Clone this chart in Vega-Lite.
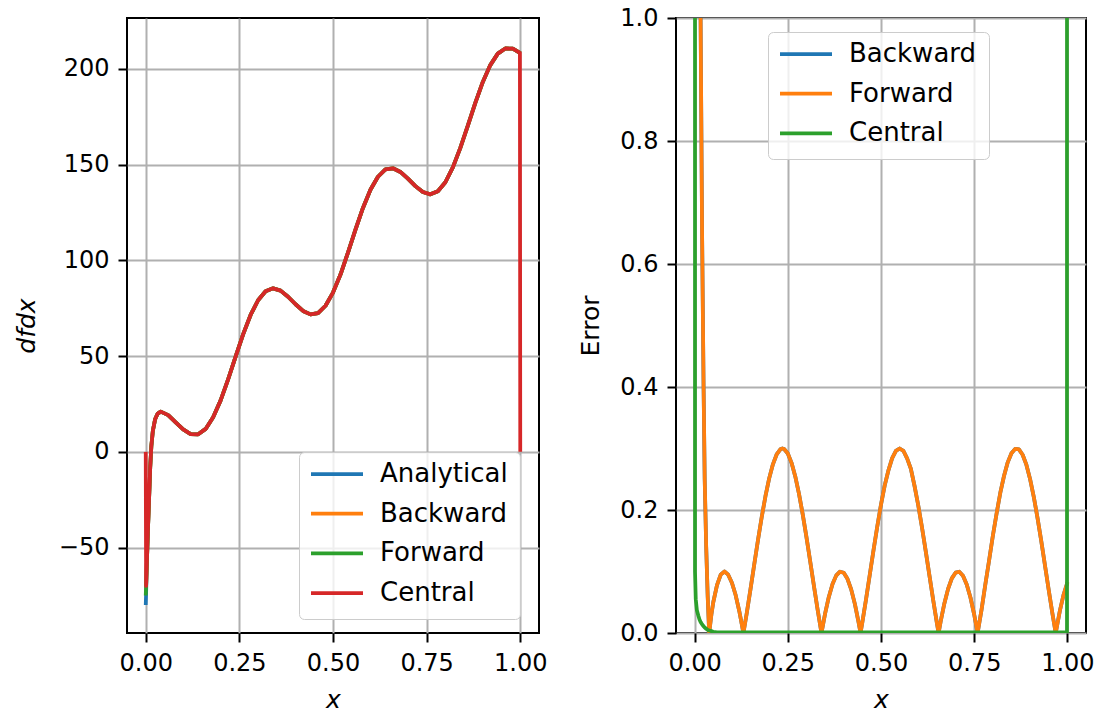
{
  "$schema": "https://vega.github.io/schema/vega-lite/v6.json",
  "autosize": {"type": "pad"},
  "padding": {"left": 13, "top": 5, "right": 0, "bottom": 2},
  "bounds": "flush",
  "spacing": 137,
  "background": "white",
  "datasets": {
    "deriv": [
      {"x": 0, "Analytical": -80, "Backward": -70, "Forward": -75, "Central": 0},
      {"x": 0.001, "Analytical": -74, "Backward": -70, "Forward": -70, "Central": -70},
      {"x": 0.003, "Analytical": -58, "Backward": -58, "Forward": -58, "Central": -58},
      {"x": 0.006, "Analytical": -40, "Backward": -40, "Forward": -40, "Central": -40},
      {"x": 0.009, "Analytical": -24, "Backward": -24, "Forward": -24, "Central": -24},
      {"x": 0.012, "Analytical": -8, "Backward": -8, "Forward": -8, "Central": -8},
      {"x": 0.015, "Analytical": 3, "Backward": 3, "Forward": 3, "Central": 3},
      {"x": 0.019, "Analytical": 11, "Backward": 11, "Forward": 11, "Central": 11},
      {"x": 0.025, "Analytical": 17, "Backward": 17, "Forward": 17, "Central": 17},
      {"x": 0.032, "Analytical": 20, "Backward": 20, "Forward": 20, "Central": 20},
      {"x": 0.04, "Analytical": 21, "Backward": 21, "Forward": 21, "Central": 21},
      {"x": 0.06, "Analytical": 19.2, "Backward": 19.2, "Forward": 19.2, "Central": 19.2},
      {"x": 0.08, "Analytical": 15.4, "Backward": 15.4, "Forward": 15.4, "Central": 15.4},
      {"x": 0.10, "Analytical": 11.7, "Backward": 11.7, "Forward": 11.7, "Central": 11.7},
      {"x": 0.12, "Analytical": 9.3, "Backward": 9.3, "Forward": 9.3, "Central": 9.3},
      {"x": 0.14, "Analytical": 9.2, "Backward": 9.2, "Forward": 9.2, "Central": 9.2},
      {"x": 0.16, "Analytical": 12.0, "Backward": 12.0, "Forward": 12.0, "Central": 12.0},
      {"x": 0.18, "Analytical": 18.1, "Backward": 18.1, "Forward": 18.1, "Central": 18.1},
      {"x": 0.20, "Analytical": 26.9, "Backward": 26.9, "Forward": 26.9, "Central": 26.9},
      {"x": 0.22, "Analytical": 37.9, "Backward": 37.9, "Forward": 37.9, "Central": 37.9},
      {"x": 0.24, "Analytical": 49.7, "Backward": 49.7, "Forward": 49.7, "Central": 49.7},
      {"x": 0.26, "Analytical": 61.4, "Backward": 61.4, "Forward": 61.4, "Central": 61.4},
      {"x": 0.28, "Analytical": 71.5, "Backward": 71.5, "Forward": 71.5, "Central": 71.5},
      {"x": 0.30, "Analytical": 79.2, "Backward": 79.2, "Forward": 79.2, "Central": 79.2},
      {"x": 0.32, "Analytical": 83.9, "Backward": 83.9, "Forward": 83.9, "Central": 83.9},
      {"x": 0.34, "Analytical": 85.4, "Backward": 85.4, "Forward": 85.4, "Central": 85.4},
      {"x": 0.36, "Analytical": 84.2, "Backward": 84.2, "Forward": 84.2, "Central": 84.2},
      {"x": 0.38, "Analytical": 81.0, "Backward": 81.0, "Forward": 81.0, "Central": 81.0},
      {"x": 0.40, "Analytical": 77.1, "Backward": 77.1, "Forward": 77.1, "Central": 77.1},
      {"x": 0.42, "Analytical": 73.6, "Backward": 73.6, "Forward": 73.6, "Central": 73.6},
      {"x": 0.44, "Analytical": 71.8, "Backward": 71.8, "Forward": 71.8, "Central": 71.8},
      {"x": 0.46, "Analytical": 72.5, "Backward": 72.5, "Forward": 72.5, "Central": 72.5},
      {"x": 0.48, "Analytical": 76.3, "Backward": 76.3, "Forward": 76.3, "Central": 76.3},
      {"x": 0.50, "Analytical": 83.2, "Backward": 83.2, "Forward": 83.2, "Central": 83.2},
      {"x": 0.52, "Analytical": 92.6, "Backward": 92.6, "Forward": 92.6, "Central": 92.6},
      {"x": 0.54, "Analytical": 104.1, "Backward": 104.1, "Forward": 104.1, "Central": 104.1},
      {"x": 0.56, "Analytical": 116.1, "Backward": 116.1, "Forward": 116.1, "Central": 116.1},
      {"x": 0.58, "Analytical": 127.4, "Backward": 127.4, "Forward": 127.4, "Central": 127.4},
      {"x": 0.60, "Analytical": 136.9, "Backward": 136.9, "Forward": 136.9, "Central": 136.9},
      {"x": 0.62, "Analytical": 143.7, "Backward": 143.7, "Forward": 143.7, "Central": 143.7},
      {"x": 0.64, "Analytical": 147.5, "Backward": 147.5, "Forward": 147.5, "Central": 147.5},
      {"x": 0.66, "Analytical": 148.1, "Backward": 148.1, "Forward": 148.1, "Central": 148.1},
      {"x": 0.68, "Analytical": 146.2, "Backward": 146.2, "Forward": 146.2, "Central": 146.2},
      {"x": 0.70, "Analytical": 142.7, "Backward": 142.7, "Forward": 142.7, "Central": 142.7},
      {"x": 0.72, "Analytical": 138.8, "Backward": 138.8, "Forward": 138.8, "Central": 138.8},
      {"x": 0.74, "Analytical": 135.7, "Backward": 135.7, "Forward": 135.7, "Central": 135.7},
      {"x": 0.76, "Analytical": 134.5, "Backward": 134.5, "Forward": 134.5, "Central": 134.5},
      {"x": 0.78, "Analytical": 136.1, "Backward": 136.1, "Forward": 136.1, "Central": 136.1},
      {"x": 0.80, "Analytical": 140.8, "Backward": 140.8, "Forward": 140.8, "Central": 140.8},
      {"x": 0.82, "Analytical": 148.6, "Backward": 148.6, "Forward": 148.6, "Central": 148.6},
      {"x": 0.84, "Analytical": 158.8, "Backward": 158.8, "Forward": 158.8, "Central": 158.8},
      {"x": 0.86, "Analytical": 170.4, "Backward": 170.4, "Forward": 170.4, "Central": 170.4},
      {"x": 0.88, "Analytical": 182.3, "Backward": 182.3, "Forward": 182.3, "Central": 182.3},
      {"x": 0.90, "Analytical": 193.2, "Backward": 193.2, "Forward": 193.2, "Central": 193.2},
      {"x": 0.92, "Analytical": 202.0, "Backward": 202.0, "Forward": 202.0, "Central": 202.0},
      {"x": 0.94, "Analytical": 208.0, "Backward": 208.0, "Forward": 208.0, "Central": 208.0},
      {"x": 0.96, "Analytical": 210.7, "Backward": 210.7, "Forward": 210.7, "Central": 210.7},
      {"x": 0.98, "Analytical": 210.6, "Backward": 210.6, "Forward": 210.6, "Central": 210.6},
      {"x": 0.999, "Analytical": 208.4, "Backward": 208.4, "Forward": 208.4, "Central": 208.4},
      {"x": 1.0, "Analytical": 208.2, "Backward": 208.2, "Forward": 208.2, "Central": 0}
    ],
    "err": [
      {"x": 0, "Backward": 10, "Forward": 10, "Central": 80},
      {"x": 0.001, "Backward": 6, "Forward": 6, "Central": 0.1},
      {"x": 0.003, "Backward": 4, "Forward": 4, "Central": 0.055},
      {"x": 0.006, "Backward": 2.8, "Forward": 2.8, "Central": 0.037},
      {"x": 0.01, "Backward": 1.9, "Forward": 1.9, "Central": 0.028},
      {"x": 0.013, "Backward": 1.4, "Forward": 1.4, "Central": 0.022},
      {"x": 0.016, "Backward": 1.0, "Forward": 1.0, "Central": 0.018},
      {"x": 0.02, "Backward": 0.65, "Forward": 0.65, "Central": 0.014},
      {"x": 0.024, "Backward": 0.4, "Forward": 0.4, "Central": 0.011},
      {"x": 0.027, "Backward": 0.25, "Forward": 0.25, "Central": 0.009},
      {"x": 0.031, "Backward": 0.14, "Forward": 0.14, "Central": 0.007},
      {"x": 0.035, "Backward": 0.06, "Forward": 0.06, "Central": 0.005},
      {"x": 0.039, "Backward": 0.0, "Forward": 0.0, "Central": 0.004},
      {"x": 0.045, "Backward": 0.03, "Forward": 0.03, "Central": 0.003},
      {"x": 0.05, "Backward": 0.05, "Forward": 0.05, "Central": 0.002},
      {"x": 0.06, "Backward": 0.078, "Forward": 0.078, "Central": 0.001},
      {"x": 0.07, "Backward": 0.095, "Forward": 0.095, "Central": 0.001},
      {"x": 0.08, "Backward": 0.1, "Forward": 0.1, "Central": 0.001},
      {"x": 0.09, "Backward": 0.0948, "Forward": 0.0948, "Central": 0.001},
      {"x": 0.10, "Backward": 0.0818, "Forward": 0.0818, "Central": 0.001},
      {"x": 0.11, "Backward": 0.0617, "Forward": 0.0617, "Central": 0.001},
      {"x": 0.12, "Backward": 0.035, "Forward": 0.035, "Central": 0.001},
      {"x": 0.1309, "Backward": 0, "Forward": 0, "Central": 0.001},
      {"x": 0.14, "Backward": 0.033, "Forward": 0.033, "Central": 0.001},
      {"x": 0.15, "Backward": 0.0718, "Forward": 0.0718, "Central": 0.001},
      {"x": 0.16, "Backward": 0.1117, "Forward": 0.1117, "Central": 0.001},
      {"x": 0.17, "Backward": 0.1511, "Forward": 0.1511, "Central": 0.001},
      {"x": 0.18, "Backward": 0.1885, "Forward": 0.1885, "Central": 0.001},
      {"x": 0.19, "Backward": 0.2224, "Forward": 0.2224, "Central": 0.001},
      {"x": 0.20, "Backward": 0.2514, "Forward": 0.2514, "Central": 0.001},
      {"x": 0.21, "Backward": 0.2743, "Forward": 0.2743, "Central": 0.001},
      {"x": 0.22, "Backward": 0.2903, "Forward": 0.2903, "Central": 0.001},
      {"x": 0.23, "Backward": 0.2987, "Forward": 0.2987, "Central": 0.001},
      {"x": 0.2356, "Backward": 0.3, "Forward": 0.3, "Central": 0.001},
      {"x": 0.24, "Backward": 0.2992, "Forward": 0.2992, "Central": 0.001},
      {"x": 0.25, "Backward": 0.2918, "Forward": 0.2918, "Central": 0.001},
      {"x": 0.26, "Backward": 0.2767, "Forward": 0.2767, "Central": 0.001},
      {"x": 0.27, "Backward": 0.2546, "Forward": 0.2546, "Central": 0.001},
      {"x": 0.28, "Backward": 0.2263, "Forward": 0.2263, "Central": 0.001},
      {"x": 0.29, "Backward": 0.1929, "Forward": 0.1929, "Central": 0.001},
      {"x": 0.30, "Backward": 0.1559, "Forward": 0.1559, "Central": 0.001},
      {"x": 0.31, "Backward": 0.1166, "Forward": 0.1166, "Central": 0.001},
      {"x": 0.32, "Backward": 0.0767, "Forward": 0.0767, "Central": 0.001},
      {"x": 0.33, "Backward": 0.0377, "Forward": 0.0377, "Central": 0.001},
      {"x": 0.3403, "Backward": 0, "Forward": 0, "Central": 0.001},
      {"x": 0.35, "Backward": 0.0314, "Forward": 0.0314, "Central": 0.001},
      {"x": 0.36, "Backward": 0.0587, "Forward": 0.0587, "Central": 0.001},
      {"x": 0.37, "Backward": 0.0797, "Forward": 0.0797, "Central": 0.001},
      {"x": 0.38, "Backward": 0.0937, "Forward": 0.0937, "Central": 0.001},
      {"x": 0.39, "Backward": 0.0997, "Forward": 0.0997, "Central": 0.001},
      {"x": 0.40, "Backward": 0.0979, "Forward": 0.0979, "Central": 0.001},
      {"x": 0.41, "Backward": 0.0881, "Forward": 0.0881, "Central": 0.001},
      {"x": 0.42, "Backward": 0.0709, "Forward": 0.0709, "Central": 0.001},
      {"x": 0.43, "Backward": 0.0469, "Forward": 0.0469, "Central": 0.001},
      {"x": 0.44, "Backward": 0.017, "Forward": 0.017, "Central": 0.001},
      {"x": 0.4451, "Backward": 0, "Forward": 0, "Central": 0.001},
      {"x": 0.45, "Backward": 0.0176, "Forward": 0.0176, "Central": 0.001},
      {"x": 0.46, "Backward": 0.0554, "Forward": 0.0554, "Central": 0.001},
      {"x": 0.47, "Backward": 0.095, "Forward": 0.095, "Central": 0.001},
      {"x": 0.48, "Backward": 0.1349, "Forward": 0.1349, "Central": 0.001},
      {"x": 0.49, "Backward": 0.1733, "Forward": 0.1733, "Central": 0.001},
      {"x": 0.50, "Backward": 0.2088, "Forward": 0.2088, "Central": 0.001},
      {"x": 0.51, "Backward": 0.24, "Forward": 0.24, "Central": 0.001},
      {"x": 0.52, "Backward": 0.2646, "Forward": 0.2646, "Central": 0.001},
      {"x": 0.53, "Backward": 0.2844, "Forward": 0.2844, "Central": 0.001},
      {"x": 0.54, "Backward": 0.2962, "Forward": 0.2962, "Central": 0.001},
      {"x": 0.55, "Backward": 0.3, "Forward": 0.3, "Central": 0.001},
      {"x": 0.56, "Backward": 0.2963, "Forward": 0.2963, "Central": 0.001},
      {"x": 0.57, "Backward": 0.2839, "Forward": 0.2839, "Central": 0.001},
      {"x": 0.58, "Backward": 0.2673, "Forward": 0.2673, "Central": 0.001},
      {"x": 0.59, "Backward": 0.239, "Forward": 0.239, "Central": 0.001},
      {"x": 0.60, "Backward": 0.2073, "Forward": 0.2073, "Central": 0.001},
      {"x": 0.61, "Backward": 0.1716, "Forward": 0.1716, "Central": 0.001},
      {"x": 0.62, "Backward": 0.1331, "Forward": 0.1331, "Central": 0.001},
      {"x": 0.63, "Backward": 0.0933, "Forward": 0.0933, "Central": 0.001},
      {"x": 0.64, "Backward": 0.0537, "Forward": 0.0537, "Central": 0.001},
      {"x": 0.65, "Backward": 0.016, "Forward": 0.016, "Central": 0.001},
      {"x": 0.6545, "Backward": 0, "Forward": 0, "Central": 0.001},
      {"x": 0.66, "Backward": 0.0184, "Forward": 0.0184, "Central": 0.001},
      {"x": 0.67, "Backward": 0.0481, "Forward": 0.0481, "Central": 0.001},
      {"x": 0.68, "Backward": 0.0718, "Forward": 0.0718, "Central": 0.001},
      {"x": 0.69, "Backward": 0.0888, "Forward": 0.0888, "Central": 0.001},
      {"x": 0.70, "Backward": 0.0981, "Forward": 0.0981, "Central": 0.001},
      {"x": 0.71, "Backward": 0.0996, "Forward": 0.0996, "Central": 0.001},
      {"x": 0.72, "Backward": 0.0931, "Forward": 0.0931, "Central": 0.001},
      {"x": 0.73, "Backward": 0.079, "Forward": 0.079, "Central": 0.001},
      {"x": 0.74, "Backward": 0.0577, "Forward": 0.0577, "Central": 0.001},
      {"x": 0.75, "Backward": 0.0301, "Forward": 0.0301, "Central": 0.001},
      {"x": 0.7592, "Backward": 0, "Forward": 0, "Central": 0.001},
      {"x": 0.77, "Backward": 0.0388, "Forward": 0.0388, "Central": 0.001},
      {"x": 0.78, "Backward": 0.0792, "Forward": 0.0792, "Central": 0.001},
      {"x": 0.79, "Backward": 0.1179, "Forward": 0.1179, "Central": 0.001},
      {"x": 0.80, "Backward": 0.1576, "Forward": 0.1576, "Central": 0.001},
      {"x": 0.81, "Backward": 0.194, "Forward": 0.194, "Central": 0.001},
      {"x": 0.82, "Backward": 0.2277, "Forward": 0.2277, "Central": 0.001},
      {"x": 0.83, "Backward": 0.2553, "Forward": 0.2553, "Central": 0.001},
      {"x": 0.84, "Backward": 0.2775, "Forward": 0.2775, "Central": 0.001},
      {"x": 0.85, "Backward": 0.2923, "Forward": 0.2923, "Central": 0.001},
      {"x": 0.86, "Backward": 0.2994, "Forward": 0.2994, "Central": 0.001},
      {"x": 0.87, "Backward": 0.2986, "Forward": 0.2986, "Central": 0.001},
      {"x": 0.88, "Backward": 0.2898, "Forward": 0.2898, "Central": 0.001},
      {"x": 0.89, "Backward": 0.2737, "Forward": 0.2737, "Central": 0.001},
      {"x": 0.90, "Backward": 0.2502, "Forward": 0.2502, "Central": 0.001},
      {"x": 0.91, "Backward": 0.2211, "Forward": 0.2211, "Central": 0.001},
      {"x": 0.92, "Backward": 0.1869, "Forward": 0.1869, "Central": 0.001},
      {"x": 0.93, "Backward": 0.1494, "Forward": 0.1494, "Central": 0.001},
      {"x": 0.94, "Backward": 0.1099, "Forward": 0.1099, "Central": 0.001},
      {"x": 0.95, "Backward": 0.07, "Forward": 0.07, "Central": 0.001},
      {"x": 0.96, "Backward": 0.0314, "Forward": 0.0314, "Central": 0.001},
      {"x": 0.9687, "Backward": 0, "Forward": 0, "Central": 0.001},
      {"x": 0.98, "Backward": 0.0364, "Forward": 0.0364, "Central": 0.001},
      {"x": 0.99, "Backward": 0.0627, "Forward": 0.0627, "Central": 0.001},
      {"x": 0.999, "Backward": 0.08, "Forward": 0.08, "Central": 0.001},
      {"x": 1.0, "Backward": 0.0826, "Forward": 0.0826, "Central": 208}
    ]
  },
  "hconcat": [
    {
      "width": 412,
      "height": 615,
      "data": {"name": "deriv"},
      "transform": [{"fold": ["Analytical", "Backward", "Forward", "Central"], "as": ["series", "value"]}],
      "encoding": {
        "x": {"field": "x", "type": "quantitative",
          "scale": {"domain": [-0.05, 1.05], "nice": false, "zero": false},
          "axis": {"values": [0, 0.25, 0.5, 0.75, 1], "format": ".2f", "title": "x", "titleFontStyle": "italic", "titleY": 74, "titleBaseline": "alphabetic"}},
        "y": {"field": "value", "type": "quantitative",
          "scale": {"domain": [-94.6, 226.6], "nice": false, "zero": false},
          "axis": {"values": [-50, 0, 50, 100, 150, 200], "format": "d", "title": "dfdx", "titleFontStyle": "italic", "titleX": -93, "titleY": 307.5, "titleAngle": -90, "titleAlign": "center", "titleBaseline": "alphabetic"}},
        "color": {"field": "series", "type": "nominal",
          "scale": {"domain": ["Analytical", "Backward", "Forward", "Central"], "range": ["#1f77b4", "#ff7f0e", "#2ca02c", "#d62728"]},
          "legend": {"orient": "none", "legendX": 172, "legendY": 434, "title": null, "symbolType": "stroke", "symbolSize": 3025, "symbolStrokeWidth": 3.75, "symbolOffset": -5, "labelFontSize": 26, "labelOffset": 15, "clipHeight": 20, "rowPadding": 13.7, "padding": 12, "fillColor": "rgba(255,255,255,0.8)", "strokeColor": "#cccccc", "cornerRadius": 5, "labelColor": "#000"}}
      },
      "layer": [
        {"transform": [{"filter": "datum.series === 'Analytical'"}], "mark": {"type": "line", "strokeWidth": 3.75, "clip": true, "strokeJoin": "round"}},
        {"transform": [{"filter": "datum.series === 'Backward'"}], "mark": {"type": "line", "strokeWidth": 3.75, "clip": true, "strokeJoin": "round"}},
        {"transform": [{"filter": "datum.series === 'Forward'"}], "mark": {"type": "line", "strokeWidth": 3.75, "clip": true, "strokeJoin": "round"}},
        {"transform": [{"filter": "datum.series === 'Central'"}], "mark": {"type": "line", "strokeWidth": 3.75, "clip": true, "strokeJoin": "round"}}
      ]
    },
    {
      "width": 410,
      "height": 615,
      "data": {"name": "err"},
      "transform": [{"fold": ["Backward", "Forward", "Central"], "as": ["series", "error"]}],
      "encoding": {
        "x": {"field": "x", "type": "quantitative",
          "scale": {"domain": [-0.05, 1.05], "nice": false, "zero": false},
          "axis": {"values": [0, 0.25, 0.5, 0.75, 1], "format": ".2f", "title": "x", "titleFontStyle": "italic", "titleY": 74, "titleBaseline": "alphabetic"}},
        "y": {"field": "error", "type": "quantitative",
          "scale": {"domain": [0, 1], "nice": false, "zero": false},
          "axis": {"values": [0, 0.2, 0.4, 0.6, 0.8, 1.0], "format": ".1f", "title": "Error", "titleX": -78, "titleY": 307.5, "titleAngle": -90, "titleAlign": "center", "titleBaseline": "alphabetic"}},
        "color": {"field": "series", "type": "nominal",
          "scale": {"domain": ["Backward", "Forward", "Central"], "range": ["#1f77b4", "#ff7f0e", "#2ca02c"]},
          "legend": {"orient": "none", "legendX": 92, "legendY": 14, "title": null, "symbolType": "stroke", "symbolSize": 3025, "symbolStrokeWidth": 3.75, "symbolOffset": -5, "labelFontSize": 26, "labelOffset": 15, "clipHeight": 20, "rowPadding": 13.7, "padding": 12, "fillColor": "rgba(255,255,255,0.8)", "strokeColor": "#cccccc", "cornerRadius": 5, "labelColor": "#000"}}
      },
      "layer": [
        {"transform": [{"filter": "datum.series === 'Backward'"}], "mark": {"type": "line", "strokeWidth": 3.75, "clip": true, "strokeJoin": "round"}},
        {"transform": [{"filter": "datum.series === 'Forward'"}], "mark": {"type": "line", "strokeWidth": 3.75, "clip": true, "strokeJoin": "round"}},
        {"transform": [{"filter": "datum.series === 'Central'"}], "mark": {"type": "line", "strokeWidth": 3.75, "clip": true, "strokeJoin": "round"}}
      ]
    }
  ],
  "resolve": {
    "scale": {"x": "independent", "y": "independent", "color": "independent"},
    "legend": {"color": "independent"}
  },
  "config": {
    "font": "DejaVu Sans",
    "view": {"stroke": "#000", "strokeWidth": 2},
    "axis": {
      "grid": true, "gridColor": "#b0b0b0", "gridWidth": 2, "gridOpacity": 1,
      "domain": false,
      "ticks": true, "tickColor": "#000", "tickWidth": 2, "tickSize": 9,
      "labelFontSize": 24, "labelColor": "#000", "labelPadding": 9, "labelFlush": false, "labelOverlap": false,
      "titleFontSize": 25, "titleFontWeight": "normal", "titleColor": "#000"
    }
  }
}
